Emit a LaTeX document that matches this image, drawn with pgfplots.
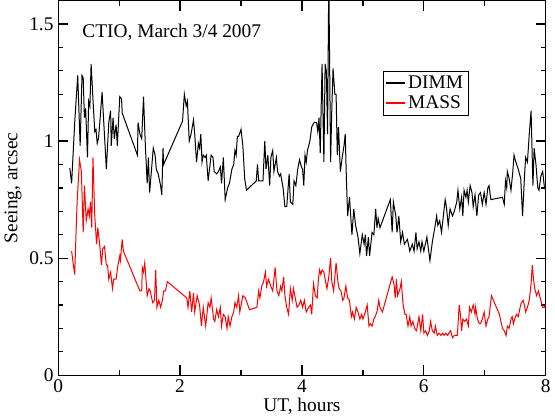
\documentclass[border=0pt]{standalone}
\usepackage{fontspec}
\setmainfont{Liberation Serif}
\usepackage{pgfplots}
\pgfplotsset{compat=1.18}

\pgfplotstableread{
t v
0.19 0.885
0.22 0.82
0.27 1.077
0.32 1.28
0.36 0.98
0.39 1.28
0.41 1.27
0.43 1.10
0.45 1.14
0.48 0.93
0.50 1.17
0.52 1.15
0.54 1.33
0.57 1.18
0.60 1.04
0.62 1.05
0.64 0.99
0.66 1.01
0.68 1.07
0.72 1.21
0.79 0.88
0.83 1.08
0.86 1.13
0.87 0.98
0.90 1.10
0.92 1.01
0.95 1.07
0.97 0.98
1.01 1.19
1.04 1.18
1.05 1.12
1.30 0.94
1.31 1.08
1.34 1.03
1.37 1.01
1.40 1.19
1.43 0.98
1.46 0.82
1.48 0.93
1.50 0.78
1.56 0.97
1.59 0.94
1.61 0.88
1.64 0.86
1.68 0.81
1.70 0.77
1.72 0.97
1.73 0.90
2.04 1.085
2.07 1.20
2.10 1.15
2.12 1.17
2.15 1.00
2.18 1.03
2.22 1.09
2.24 1.03
2.27 0.91
2.30 0.99
2.32 0.97
2.34 1.03
2.36 0.91
2.38 0.94
2.41 0.93
2.43 0.94
2.46 0.83
2.51 0.94
2.54 0.93
2.56 0.87
2.60 0.86
2.63 0.87
2.66 0.89
2.68 0.82
2.71 0.93
2.74 0.75
2.78 0.80
2.81 0.82
2.85 0.88
2.88 0.90
2.90 0.96
2.92 0.94
2.94 1.02
2.96 1.02
3.00 1.05
3.03 0.98
3.06 0.84
3.09 0.79
3.25 0.83
3.27 0.90
3.29 0.83
3.36 0.83
3.39 1.00
3.41 0.88
3.44 0.94
3.47 0.81
3.49 0.93
3.52 0.96
3.54 0.87
3.58 0.93
3.60 0.87
3.63 0.85
3.65 0.86
3.69 0.80
3.72 0.72
3.75 0.72
3.79 0.86
3.81 0.74
3.85 0.73
3.87 0.83
3.90 0.81
3.93 0.88
3.96 0.92
3.99 0.89
4.01 0.88
4.03 0.81
4.05 0.94
4.07 0.91
4.09 0.96
4.13 1.00
4.16 1.06
4.20 1.08
4.24 1.08
4.26 1.04
4.28 1.10
4.30 0.95
4.33 1.33
4.36 0.91
4.38 1.33
4.40 1.30
4.42 1.03
4.44 1.70
4.47 0.91
4.49 1.14
4.51 1.31
4.54 1.20
4.56 1.20
4.58 0.94
4.60 1.06
4.63 0.87
4.66 0.93
4.69 0.98
4.71 1.03
4.73 0.83
4.75 0.68
4.78 0.76
4.82 0.60
4.85 0.71
4.88 0.64
4.92 0.59
4.95 0.52
4.99 0.60
5.02 0.56
5.04 0.60
5.06 0.51
5.09 0.59
5.11 0.51
5.15 0.61
5.18 0.60
5.21 0.71
5.23 0.63
5.25 0.67
5.28 0.63
5.45 0.75
5.48 0.61
5.50 0.74
5.54 0.68
5.56 0.61
5.59 0.68
5.62 0.57
5.65 0.61
5.68 0.56
5.73 0.58
5.77 0.53
5.81 0.56
5.84 0.53
5.87 0.61
5.89 0.54
5.92 0.57
5.95 0.53
5.97 0.57
6.00 0.53
6.05 0.59
6.10 0.49
6.14 0.57
6.18 0.63
6.21 0.68
6.23 0.64
6.26 0.66
6.29 0.61
6.32 0.68
6.35 0.75
6.37 0.72
6.40 0.64
6.43 0.71
6.47 0.68
6.50 0.70
6.54 0.74
6.56 0.79
6.59 0.71
6.62 0.76
6.64 0.68
6.66 0.79
6.69 0.76
6.71 0.79
6.73 0.74
6.76 0.81
6.79 0.78
6.81 0.72
6.84 0.77
6.87 0.68
6.90 0.77
6.93 0.78
6.96 0.73
6.99 0.78
7.02 0.73
7.05 0.80
7.07 0.81
7.10 0.75
7.29 0.76
7.32 0.73
7.34 0.83
7.36 0.80
7.37 0.87
7.40 0.84
7.43 0.79
7.46 0.87
7.48 0.94
7.51 0.91
7.55 0.88
7.59 0.84
7.62 0.68
7.65 0.84
7.67 0.93
7.70 0.91
7.73 1.03
7.76 1.13
7.79 0.81
7.81 0.97
7.84 0.90
7.87 0.80
7.89 0.79
7.92 0.85
7.95 0.87
7.98 0.80
8.00 0.81
8.03 0.74
}\dimm

\pgfplotstableread{
t v
0.22 0.53
0.27 0.43
0.31 0.74
0.35 0.92
0.38 0.87
0.41 0.61
0.43 0.81
0.46 0.66
0.49 0.71
0.51 0.68
0.53 0.74
0.55 0.63
0.57 0.93
0.60 0.68
0.63 0.56
0.65 0.63
0.68 0.56
0.71 0.47
0.73 0.54
0.76 0.55
0.79 0.47
0.81 0.47
0.83 0.41
0.86 0.44
0.89 0.37
0.91 0.41
0.95 0.41
0.98 0.47
1.01 0.51
1.02 0.49
1.05 0.58
1.07 0.53
1.34 0.36
1.37 0.36
1.38 0.46
1.40 0.44
1.42 0.48
1.46 0.34
1.49 0.37
1.51 0.36
1.55 0.31
1.58 0.32
1.60 0.45
1.62 0.29
1.65 0.32
1.68 0.29
1.71 0.32
1.73 0.36
1.76 0.36
1.79 0.40
2.11 0.33
2.13 0.29
2.16 0.36
2.19 0.27
2.22 0.35
2.24 0.27
2.28 0.34
2.32 0.30
2.35 0.21
2.38 0.29
2.42 0.21
2.46 0.31
2.49 0.29
2.51 0.33
2.55 0.24
2.57 0.23
2.60 0.28
2.63 0.25
2.66 0.29
2.68 0.21
2.71 0.26
2.74 0.25
2.77 0.20
2.79 0.25
2.82 0.21
2.85 0.25
2.88 0.27
2.90 0.31
2.93 0.29
2.96 0.34
2.98 0.27
3.03 0.34
3.07 0.33
3.14 0.28
3.26 0.29
3.29 0.36
3.31 0.33
3.34 0.38
3.37 0.40
3.40 0.44
3.42 0.38
3.45 0.41
3.49 0.38
3.52 0.36
3.56 0.46
3.59 0.36
3.62 0.34
3.65 0.38
3.67 0.36
3.70 0.42
3.72 0.34
3.75 0.29
3.78 0.26
3.81 0.37
3.84 0.32
3.86 0.37
3.89 0.33
3.92 0.29
3.95 0.30
3.98 0.32
4.01 0.29
4.04 0.32
4.07 0.27
4.11 0.29
4.14 0.30
4.16 0.26
4.19 0.39
4.22 0.34
4.25 0.33
4.27 0.41
4.29 0.45
4.31 0.43
4.33 0.45
4.36 0.44
4.38 0.41
4.41 0.37
4.44 0.42
4.47 0.50
4.49 0.40
4.52 0.36
4.56 0.48
4.59 0.40
4.61 0.37
4.64 0.36
4.67 0.32
4.69 0.33
4.72 0.38
4.75 0.33
4.78 0.32
4.81 0.25
4.83 0.27
4.86 0.24
4.89 0.29
4.92 0.27
4.95 0.24
4.98 0.26
5.00 0.24
5.04 0.27
5.07 0.30
5.10 0.21
5.12 0.22
5.15 0.21
5.18 0.24
5.20 0.25
5.23 0.27
5.26 0.32
5.28 0.29
5.32 0.27
5.48 0.42
5.51 0.39
5.53 0.33
5.55 0.41
5.57 0.34
5.61 0.37
5.63 0.40
5.66 0.30
5.69 0.26
5.71 0.26
5.74 0.21
5.77 0.25
5.79 0.21
5.82 0.23
5.85 0.20
5.88 0.19
5.92 0.25
5.95 0.19
5.98 0.26
6.00 0.18
6.03 0.19
6.06 0.17
6.09 0.19
6.11 0.23
6.14 0.19
6.17 0.18
6.19 0.21
6.22 0.17
6.25 0.18
6.28 0.17
6.31 0.18
6.33 0.17
6.36 0.18
6.39 0.17
6.41 0.18
6.44 0.19
6.47 0.16
6.50 0.17
6.52 0.17
6.55 0.17
6.58 0.30
6.60 0.26
6.62 0.19
6.64 0.24
6.67 0.23
6.70 0.24
6.73 0.21
6.75 0.29
6.78 0.27
6.81 0.30
6.84 0.26
6.85 0.29
6.88 0.24
6.91 0.22
6.93 0.22
6.96 0.24
6.99 0.27
7.02 0.21
7.05 0.24
7.07 0.25
7.11 0.34
7.24 0.26
7.29 0.20
7.32 0.19
7.35 0.17
7.37 0.21
7.40 0.20
7.43 0.24
7.45 0.25
7.47 0.22
7.49 0.24
7.52 0.26
7.55 0.25
7.58 0.29
7.60 0.31
7.63 0.32
7.65 0.30
7.67 0.27
7.70 0.29
7.73 0.32
7.76 0.39
7.78 0.47
7.80 0.41
7.82 0.37
7.85 0.34
7.88 0.36
7.91 0.33
7.93 0.31
7.95 0.29
7.98 0.29
8.00 0.30
8.02 0.34
}\mass

\begin{document}
\begin{tikzpicture}
\begin{axis}[
  width=365pt, height=280.5pt, scale only axis,
  xmin=0, xmax=8, ymin=0, ymax=1.6,
  xtick={0,2,4,6,8}, minor xtick={1,3,5,7},
  ytick={0,0.5,1,1.5}, minor y tick num=4,
  tick align=inside,
  major tick length=7.5pt, minor tick length=3.75pt,
  axis line style={line width=0.9pt},
  every tick/.style={black, line width=0.9pt},
  font=\fontsize{14.5}{17}\selectfont,
  /pgf/number format/assume math mode=true,
  xlabel={UT, hours}, ylabel={Seeing, arcsec},
  xlabel style={yshift=3pt},
  ylabel style={yshift=-1pt},
  legend style={at={(rel axis cs:0.667,0.813)}, anchor=north west,
    inner sep=1.5pt, row sep=0pt,
    font=\fontsize{14.5}{14.5}\selectfont},
  legend cell align=left,
]
\addplot[color=black, line width=0.75pt,
  legend image code/.code={\draw[draw=black, line width=0.9pt] (0pt,0pt) -- (14pt,0pt);}]
  table[x=t, y=v] {\dimm};
\addplot[color=red, line width=0.75pt,
  legend image code/.code={\draw[draw=red, line width=0.9pt] (0pt,0pt) -- (14pt,0pt);}]
  table[x=t, y=v] {\mass};
\legend{DIMM, MASS}
\node[anchor=west] at (rel axis cs:0.04,0.915) {CTIO, March 3/4 2007};
\end{axis}
\end{tikzpicture}
\end{document}
